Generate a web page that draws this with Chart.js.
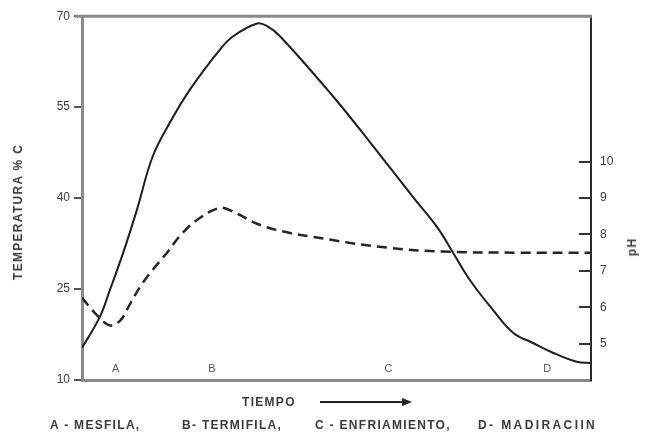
<!DOCTYPE html>
<html>
<head>
<meta charset="utf-8">
<script src="https://cdn.jsdelivr.net/npm/chart.js@4/dist/chart.umd.min.js"></script>
<style>
  html, body { margin: 0; padding: 0; background: #fff; }
  #wrap { position: relative; width: 651px; height: 433px; }
  .lbl {
    position: absolute;
    font-family: 'Liberation Sans', Arial, sans-serif;
    font-weight: bold;
    font-size: 12px;
    letter-spacing: 1.3px;
    color: #3a3a3a;
    white-space: nowrap;
    line-height: 1;
  }
  .rot { transform: translate(-50%, -50%) rotate(-90deg); }
</style>
</head>
<body>
<div id="wrap">
  <canvas id="chart"></canvas>
  <div class="lbl rot" style="left:18px; top:212px;">TEMPERATURA % C</div>
  <div class="lbl rot" style="left:632px; top:247px;">pH</div>
  <div class="lbl" style="left:242px; top:396px;">TIEMPO</div>
  <div id="legend"></div>
</div>
<script>
'use strict';

// ── Data ──────────────────────────────────────
// x runs 0..100 along TIEMPO
const tempX = [0, 3.5, 5.5, 8.1, 10.8, 13.9, 17.3, 21.2, 27.1, 29.7, 34.4, 36.3, 38.9, 49.3, 56.6, 65.0, 69.7, 72.9, 76.2, 80.7, 84.7, 88.6, 92.5, 97.2, 100];
const tempY = [15.3, 20.4, 24.9, 31, 38.1, 46.9, 52.5, 57.9, 64.5, 66.7, 68.8, 68.4, 66.7, 56.8, 49.2, 40.2, 35.3, 31, 26.5, 21.6, 17.8, 16.1, 14.5, 13, 12.8];

const phX = [0, 2.9, 5.5, 7.5, 8.8, 11.4, 13.9, 16.7, 19.8, 23.2, 26.5, 28.1, 36.3, 48.7, 59.9, 70.9, 86, 100];
const phY = [6.26, 5.79, 5.5, 5.63, 5.93, 6.56, 7.03, 7.5, 8.05, 8.46, 8.71, 8.72, 8.2, 7.86, 7.64, 7.53, 7.5, 7.5];

const tempTicks = [10, 25, 40, 55, 70];
const phTicks = [5, 6, 7, 8, 9, 10];

const phaseLetters = ['A', 'B', 'C', 'D'];
const phaseX = [6.6, 25.5, 60.2, 91.4];
const phaseNames = ['A - MESFILA,', 'B- TERMIFILA,', 'C - ENFRIAMIENTO,', 'D- MADIRACIIN'];
const phaseNameLeft = [50, 182, 315, 478];

// ── Bottom legend text ────────────────────────
const legend = document.getElementById('legend');
phaseNames.forEach((name, i) => {
  const d = document.createElement('div');
  d.className = 'lbl';
  d.style.left = phaseNameLeft[i] + 'px';
  d.style.top = '419px';
  if (i === 3) d.style.letterSpacing = '2.4px';
  d.textContent = name;
  legend.appendChild(d);
});

// ── Extras: frame top, inward pH ticks, phase letters, arrow ──
const extrasPlugin = {
  id: 'extras',
  afterDraw(chart) {
    const { ctx, chartArea, scales } = chart;
    ctx.save();

    // top frame line
    ctx.strokeStyle = '#8a8a8a';
    ctx.lineWidth = 3;
    ctx.beginPath();
    ctx.moveTo(75, chartArea.top);
    ctx.lineTo(chartArea.right + 1, chartArea.top);
    ctx.stroke();

    // inward ticks on pH axis
    const r = scales.y1;
    ctx.strokeStyle = '#333';
    ctx.lineWidth = 2;
    phTicks.forEach(v => {
      const y = Math.round(r.getPixelForValue(v));
      ctx.beginPath();
      ctx.moveTo(r.left - 12, y);
      ctx.lineTo(r.left, y);
      ctx.stroke();
    });

    // phase letters inside the plot
    ctx.fillStyle = '#555';
    ctx.font = '11px "Liberation Sans", Arial, sans-serif';
    ctx.textAlign = 'center';
    ctx.textBaseline = 'middle';
    phaseLetters.forEach((t, i) => {
      ctx.fillText(t, scales.x.getPixelForValue(phaseX[i]), chartArea.bottom - 11);
    });

    // time arrow
    ctx.strokeStyle = '#222';
    ctx.fillStyle = '#222';
    ctx.lineWidth = 2;
    ctx.beginPath();
    ctx.moveTo(320, 402);
    ctx.lineTo(404, 402);
    ctx.stroke();
    ctx.beginPath();
    ctx.moveTo(412, 402);
    ctx.lineTo(402, 398);
    ctx.lineTo(402, 406);
    ctx.closePath();
    ctx.fill();

    ctx.restore();
  },
};

const tickFont = { family: "'Liberation Sans', Arial, sans-serif", size: 12 };

new Chart(document.getElementById('chart').getContext('2d'), {
  type: 'line',
  data: {
    datasets: [
      {
        label: 'Temperatura',
        data: tempX.map((x, i) => ({ x, y: tempY[i] })),
        yAxisID: 'y',
        borderColor: '#1e1e1e',
        borderWidth: 2,
        pointRadius: 0,
        tension: 0.4,
        fill: false,
      },
      {
        label: 'pH',
        data: phX.map((x, i) => ({ x, y: phY[i] })),
        yAxisID: 'y1',
        borderColor: '#262626',
        borderWidth: 2.5,
        borderDash: [10, 6],
        pointRadius: 0,
        tension: 0.4,
        fill: false,
      },
    ],
  },
  options: {
    responsive: true,
    maintainAspectRatio: false,
    animation: false,
    layout: { padding: { top: 16, left: 0, right: 0, bottom: 0 } },
    plugins: { legend: { display: false }, tooltip: { enabled: false } },
    scales: {
      x: {
        type: 'linear',
        min: 0,
        max: 100,
        ticks: { display: false },
        grid: { display: true, drawOnChartArea: false, drawTicks: false },
        border: { color: '#8a8a8a', width: 3 },
        afterFit: s => { s.height = 53; },
      },
      y: {
        position: 'left',
        min: 10,
        max: 70,
        afterBuildTicks: s => { s.ticks = tempTicks.map(v => ({ value: v })); },
        ticks: { font: tickFont, color: '#3a3a3a', padding: 4 },
        grid: { drawOnChartArea: false, tickLength: 8, color: '#555', lineWidth: 2 },
        border: { color: '#8a8a8a', width: 3 },
        afterFit: s => { s.width = 82; },
      },
      y1: {
        position: 'right',
        min: 4,
        max: 14,
        afterBuildTicks: s => { s.ticks = phTicks.map(v => ({ value: v })); },
        ticks: { font: tickFont, color: '#3a3a3a', padding: 9 },
        grid: { drawOnChartArea: false, drawTicks: false },
        border: { color: '#2a2a2a', width: 2 },
        afterFit: s => { s.width = 60; },
      },
    },
  },
  plugins: [extrasPlugin],
});
</script>
</body>
</html>
